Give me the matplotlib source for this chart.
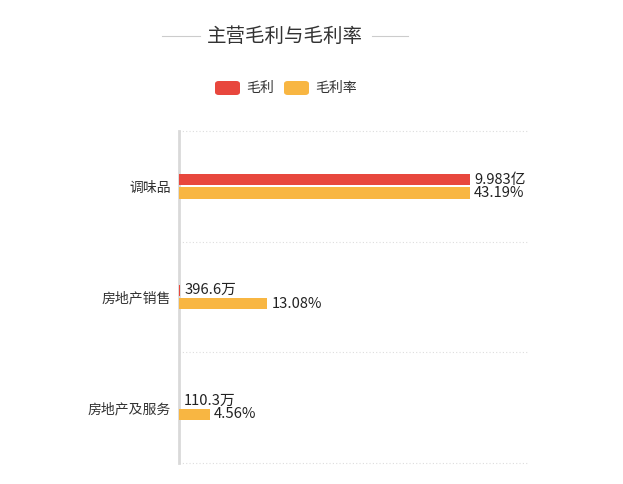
import matplotlib.pyplot as plt
from matplotlib.patches import FancyBboxPatch
from matplotlib.lines import Line2D

plt.rcParams['font.family'] = ['Noto Sans CJK SC', 'DejaVu Sans']

# Data
categories = ['调味品', '房地产销售', '房地产及服务']
gross_profit = [9.983e8, 396.6e4, 110.3e4]
gross_profit_labels = ['9.983亿', '396.6万', '110.3万']
gross_margin = [43.19, 13.08, 4.56]
gross_margin_labels = ['43.19%', '13.08%', '4.56%']

RED = '#e8473d'
ORANGE = '#f8b642'
TEXT = '#333333'

fig = plt.figure(figsize=(6.23, 4.84), dpi=100)
ax = fig.add_axes([179 / 623, 1 - 463 / 484, 348 / 623, 332 / 484])
ax2 = ax.twiny()

ypos = list(range(len(categories)))
bar_h = 0.1
off = 0.06
fill = 0.836  # max bar reaches this fraction of the plot width

ax.barh([y - off for y in ypos], gross_profit, height=bar_h, color=RED, zorder=3)
ax2.barh([y + off for y in ypos], gross_margin, height=bar_h, color=ORANGE, zorder=3)
ax.set_xlim(0, max(gross_profit) / fill)
ax2.set_xlim(0, max(gross_margin) / fill)
ax.set_ylim(2.5, -0.5)

for y, v, lab in zip(ypos, gross_profit, gross_profit_labels):
    ax.annotate(lab, (v, y - off), xytext=(3, 0), textcoords='offset points',
                va='center', ha='left', fontsize=10.6, color='#222222')
for y, v, lab in zip(ypos, gross_margin, gross_margin_labels):
    ax2.annotate(lab, (v, y + off), xytext=(3, 0), textcoords='offset points',
                 va='center', ha='left', fontsize=10.6, color='#222222')

# dotted separators between categories
for b in [-0.5, 0.5, 1.5, 2.5]:
    ax.axhline(b, color='#dddddd', lw=0.8, ls=(0, (1, 2)), zorder=1, clip_on=False)

for a in (ax, ax2):
    for s in a.spines.values():
        s.set_visible(False)
    a.tick_params(length=0)
    a.set_xticks([])
ax.axvline(0, color='#d9d9d9', lw=2, zorder=2, clip_on=False)
ax.set_yticks(ypos)
ax.set_yticklabels(categories, fontsize=10, color=TEXT)
ax.tick_params(axis='y', pad=6)

# title with side lines
fig.text(285 / 623, 1 - 36 / 484, '主营毛利与毛利率', ha='center', va='center',
         fontsize=14, color=TEXT)
fig.add_artist(Line2D([162 / 623, 200 / 623], [1 - 36 / 484] * 2, color='#cccccc', lw=0.8))
fig.add_artist(Line2D([372 / 623, 408 / 623], [1 - 36 / 484] * 2, color='#cccccc', lw=0.8))

# legend
for x0, col, lab in [(215, RED, '毛利'), (284, ORANGE, '毛利率')]:
    fig.add_artist(FancyBboxPatch((x0 / 623, 1 - 95 / 484), 25 / 623, 14 / 484,
                                  boxstyle='round,pad=0,rounding_size=0.006',
                                  transform=fig.transFigure, color=col, lw=0))
    fig.text((x0 + 31) / 623, 1 - 88 / 484, lab, ha='left', va='center',
             fontsize=10, color=TEXT)

fig.savefig('out.png', dpi=100, facecolor='white')
